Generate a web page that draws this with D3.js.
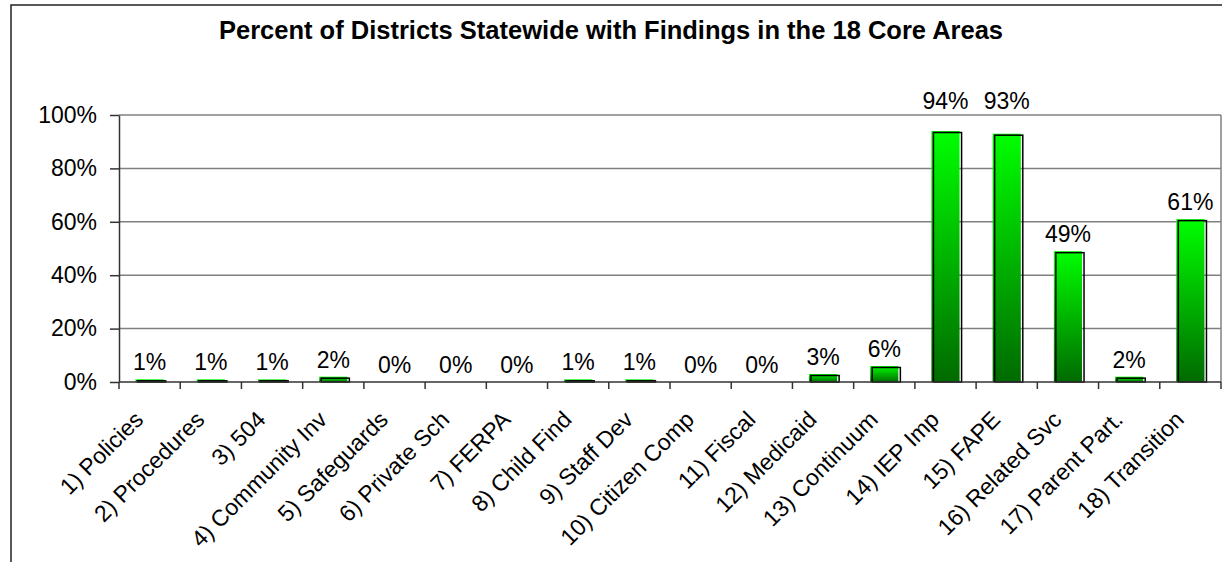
<!DOCTYPE html>
<html>
<head>
<meta charset="utf-8">
<script src="https://cdn.jsdelivr.net/npm/d3@7"></script>
<style>
  body { margin: 0; background: #fff; }
  svg text { font-family: "Liberation Sans", Arial, sans-serif; fill: #000; }
</style>
</head>
<body>
<div id="chart"></div>
<script>
// Data
const chartTitle = 'Percent of Districts Statewide with Findings in the 18 Core Areas';
const categories = [
    '1) Policies', '2) Procedures', '3) 504', '4) Community Inv', '5) Safeguards',
    '6) Private Sch', '7) FERPA', '8) Child Find', '9) Staff Dev', '10) Citizen Comp',
    '11) Fiscal', '12) Medicaid', '13) Continuum', '14) IEP Imp', '15) FAPE',
    '16) Related Svc', '17) Parent Part.', '18) Transition'
];
const percentValues = [1, 1, 1, 2, 0, 0, 0, 1, 1, 0, 0, 3, 6, 94, 93, 49, 2, 61];
const yTicks = [0, 20, 40, 60, 80, 100];

const W = 1222, H = 562;
const plot = { left: 119, right: 1221, top: 115, bottom: 382 };

const svg = d3.select('#chart').append('svg')
    .attr('width', W)
    .attr('height', H);

// Outer chart border (runs off the right and bottom of the picture)
svg.append('rect')
    .attr('x', 11).attr('y', 5)
    .attr('width', 1400).attr('height', 800)
    .attr('fill', 'none')
    .attr('stroke', '#222')
    .attr('stroke-width', 1.5);

svg.append('text')
    .attr('x', 611)
    .attr('y', 39)
    .attr('text-anchor', 'middle')
    .attr('font-size', '25.5px')
    .attr('font-weight', 'bold')
    .text(chartTitle);

const x = d3.scaleBand()
    .domain(categories)
    .range([plot.left, plot.right])
    .paddingInner(0.54)
    .paddingOuter(0.27);

const xBand = d3.scaleBand()
    .domain(categories)
    .range([plot.left, plot.right]);

const y = d3.scaleLinear()
    .domain([0, 100])
    .range([plot.bottom, plot.top]);

// gradient for bars: bright green top, dark green bottom
const defs = svg.append('defs');
const grad = defs.append('linearGradient')
    .attr('id', 'bar-grad')
    .attr('x1', '0%').attr('y1', '0%')
    .attr('x2', '0%').attr('y2', '100%');
grad.append('stop').attr('offset', '0%').attr('stop-color', '#00ff00');
grad.append('stop').attr('offset', '100%').attr('stop-color', '#006a00');

// Gridlines
svg.append('g')
    .selectAll('line')
    .data(yTicks.filter(d => d > 0))
    .join('line')
    .attr('x1', plot.left).attr('x2', plot.right)
    .attr('y1', d => y(d)).attr('y2', d => y(d))
    .attr('stroke', '#808080')
    .attr('stroke-width', 1.5);

// right edge of plot area
svg.append('line')
    .attr('x1', plot.right).attr('x2', plot.right)
    .attr('y1', plot.top).attr('y2', plot.bottom)
    .attr('stroke', '#808080')
    .attr('stroke-width', 1.5);

// Y axis
const yAxis = svg.append('g')
    .attr('transform', `translate(${plot.left},0)`)
    .call(d3.axisLeft(y).tickValues(yTicks).tickFormat(d => d + '%').tickSize(9).tickSizeOuter(0));
yAxis.select('.domain').attr('stroke', '#333').attr('stroke-width', 1.5);
yAxis.selectAll('.tick line').attr('stroke', '#333').attr('stroke-width', 1.5);
yAxis.selectAll('.tick text')
    .attr('x', -22)
    .attr('font-size', '23px')
    .attr('font-family', '"Liberation Sans", Arial, sans-serif')
    .attr('fill', '#000');

// Bars
const barData = percentValues.map((v, i) => ({ v, c: categories[i] })).filter(d => d.v > 0);
const bars = svg.append('g');
bars.selectAll('rect.fill')
    .data(barData)
    .join('rect')
    .attr('class', 'fill')
    .attr('x', d => x(d.c))
    .attr('y', d => y(d.v))
    .attr('width', x.bandwidth())
    .attr('height', d => y(0) - y(d.v))
    .attr('fill', 'url(#bar-grad)');

bars.selectAll('rect.edge')
    .data(barData)
    .join('rect')
    .attr('class', 'edge')
    .attr('x', d => x(d.c) + 2)
    .attr('y', d => y(d.v) + 1.5)
    .attr('width', x.bandwidth())
    .attr('height', d => Math.max(0.5, y(0) - y(d.v) - 1.5))
    .attr('fill', 'none')
    .attr('stroke', '#000')
    .attr('stroke-width', 1.5);

// X axis
const xAxis = svg.append('g')
    .attr('transform', `translate(0,${plot.bottom})`);
xAxis.append('line')
    .attr('x1', plot.left).attr('x2', plot.right)
    .attr('stroke', '#333')
    .attr('stroke-width', 1.5);
xAxis.selectAll('line.tick')
    .data(categories.concat(['end']))
    .join('line')
    .attr('class', 'tick')
    .attr('x1', d => d === 'end' ? plot.right : xBand(d))
    .attr('x2', d => d === 'end' ? plot.right : xBand(d))
    .attr('y1', 0).attr('y2', 7)
    .attr('stroke', '#333')
    .attr('stroke-width', 1.5);

xAxis.selectAll('text.cat')
    .data(categories)
    .join('text')
    .attr('class', 'cat')
    .attr('text-anchor', 'end')
    .attr('font-size', '23px')
    .attr('transform', d => `translate(${xBand(d) + xBand.bandwidth() / 2 - 5},${39}) rotate(-45)`)
    .text(d => d);

// Value labels; labels that would run into the top of the plot sit above it
svg.append('g')
    .selectAll('text')
    .data(percentValues.map((v, i) => ({ v, c: categories[i] })))
    .join('text')
    .attr('x', d => x(d.c) + x.bandwidth() / 2)
    .attr('y', d => (y(d.v) - 26 < plot.top ? plot.top - 6 : y(d.v) - 9))
    .attr('text-anchor', 'middle')
    .attr('font-size', '23px')
    .text(d => d.v + '%');
</script>
</body>
</html>
